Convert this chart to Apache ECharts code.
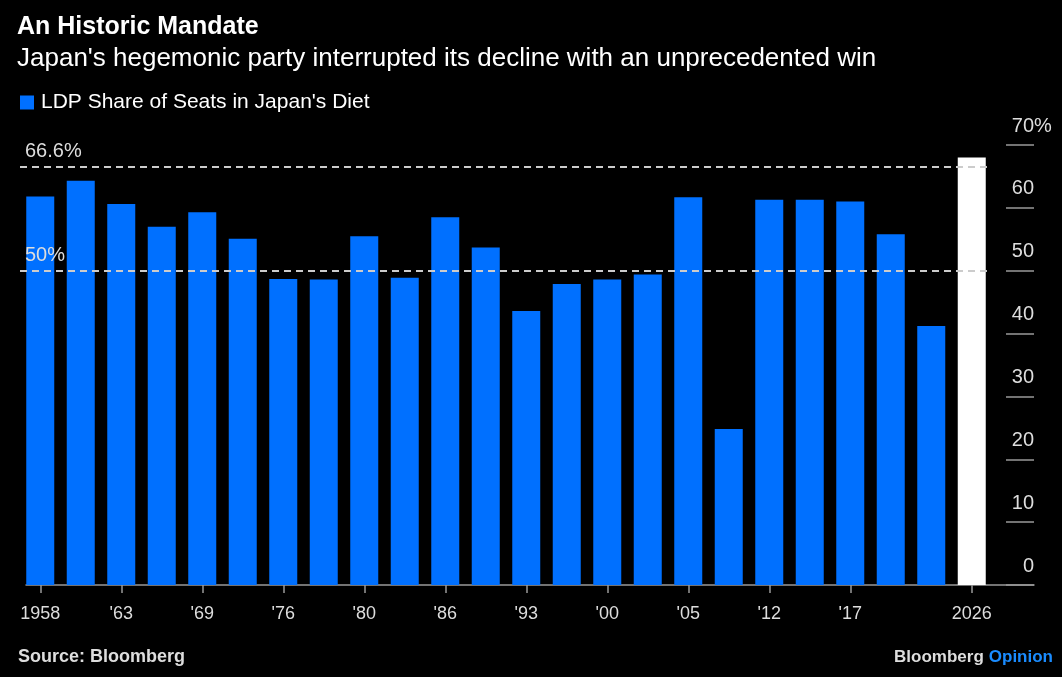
<!DOCTYPE html>
<html>
<head>
<meta charset="utf-8">
<script src="https://cdn.jsdelivr.net/npm/echarts@6/dist/echarts.min.js"></script>
<style>
  html, body { margin: 0; padding: 0; background: #000; }
  #chart { width: 1062px; height: 677px; }
</style>
</head>
<body>
<div id="chart"></div>
<script>
// 数据
var years = ['1958', '1960', '1963', '1967', '1969', '1972', '1976', '1979', '1980', '1983', '1986', '1990',
             '1993', '1996', '2000', '2003', '2005', '2009', '2012', '2014', '2017', '2021', '2024', '2026'];
var seatShare = [61.8, 64.3, 60.6, 57.0, 59.3, 55.1, 48.7, 48.6, 55.5, 48.9, 58.5, 53.7,
                 43.6, 47.9, 48.6, 49.4, 61.7, 24.8, 61.3, 61.3, 61.0, 55.8, 41.2, 68.0];
var tickLabels = ['1958', '', "'63", '', "'69", '', "'76", '', "'80", '', "'86", '',
                  "'93", '', "'00", '', "'05", '', "'12", '', "'17", '', '', '2026'];
var yTicks = [0, 10, 20, 30, 40, 50, 60, 70];
var refLines = [66.6, 50];

(function() {
  var myChart = echarts.init(document.getElementById('chart'));
  var font = 'Liberation Sans';
  var blue = '#0070ff';
  var yMin = yTicks[0];
  var yMax = yTicks[yTicks.length - 1];

  // 最后一根柱子(2026)用白色
  var barData = seatShare.map(function(v, i) {
    if (i === seatShare.length - 1) {
      return { value: v, itemStyle: { color: '#ffffff' } };
    }
    return v;
  });

  // 只在有标签的位置显示刻度
  var showAt = function(idx) { return tickLabels[idx] !== ''; };

  var option = {
    backgroundColor: '#000',
    animation: false,
    textStyle: { fontFamily: font },
    title: [
      {
        text: 'An Historic Mandate',
        subtext: "Japan's hegemonic party interrupted its decline with an unprecedented win",
        left: 12,
        top: 10,
        itemGap: 6,
        textStyle: { color: '#fff', fontSize: 25, fontWeight: 'bold', fontFamily: font },
        subtextStyle: { color: '#fff', fontSize: 26, fontFamily: font }
      },
      {
        text: 'Source: Bloomberg',
        left: 13,
        bottom: 6,
        textStyle: { color: '#ddd', fontSize: 18, fontWeight: 'bold', fontFamily: font }
      },
      {
        text: '{a|Bloomberg} {b|Opinion}',
        right: 4,
        bottom: 6,
        textStyle: {
          rich: {
            a: { color: '#ddd', fontSize: 17, fontWeight: 'bold', fontFamily: font },
            b: { color: '#1a8cff', fontSize: 17, fontWeight: 'bold', fontFamily: font }
          }
        }
      }
    ],
    legend: {
      left: 15,
      top: 87,
      itemWidth: 14,
      itemHeight: 14,
      itemGap: 10,
      icon: 'rect',
      textStyle: { color: '#fff', fontSize: 21, fontFamily: font, padding: [0, 0, 0, 2] },
      data: ["LDP Share of Seats in Japan's Diet"]
    },
    grid: [
      // 柱子所在区域
      { left: 20, right: 70, top: 145, bottom: 92 },
      // 坐标轴线和右侧刻度
      { left: 26, right: 28, top: 145, bottom: 92 }
    ],
    xAxis: [
      {
        type: 'category',
        gridIndex: 0,
        data: years,
        axisLine: { show: false },
        axisTick: {
          show: true,
          alignWithLabel: true,
          interval: showAt,
          length: 8,
          lineStyle: { color: '#999', width: 1.5 }
        },
        axisLabel: {
          interval: showAt,
          color: '#ddd',
          fontSize: 18,
          margin: 20,
          formatter: function(v, idx) { return tickLabels[idx]; }
        }
      },
      {
        type: 'value',
        gridIndex: 1,
        min: 0,
        max: 1,
        axisLine: { show: true, onZero: false, lineStyle: { color: '#999', width: 1.5 } },
        axisTick: { show: false },
        axisLabel: { show: false },
        splitLine: { show: false }
      }
    ],
    yAxis: [
      {
        type: 'value',
        gridIndex: 0,
        min: yMin,
        max: yMax,
        interval: 10,
        show: false
      },
      {
        // 右侧刻度和数字
        type: 'value',
        gridIndex: 1,
        position: 'right',
        min: yMin,
        max: yMax,
        interval: 10,
        axisLine: { show: false, onZero: false },
        splitLine: { show: false },
        axisTick: {
          show: true,
          inside: true,
          length: 28,
          lineStyle: { color: '#999', width: 1.5 }
        },
        axisLabel: {
          inside: true,
          margin: 0,
          color: '#ddd',
          fontSize: 20,
          verticalAlign: 'bottom',
          padding: [0, 0, 9, 0]
        }
      },
      {
        // 顶部的 % 号，挂在数字右边
        type: 'value',
        gridIndex: 1,
        position: 'right',
        min: yMin,
        max: yMax,
        interval: yMax,
        axisLine: { show: false, onZero: false },
        splitLine: { show: false },
        axisTick: { show: false },
        axisLabel: {
          margin: 0,
          color: '#ddd',
          fontSize: 20,
          verticalAlign: 'bottom',
          padding: [0, 0, 9, 0],
          formatter: function(v) { return v === yMax ? '%' : ''; }
        }
      }
    ],
    series: [
      {
        name: "LDP Share of Seats in Japan's Diet",
        type: 'bar',
        xAxisIndex: 0,
        yAxisIndex: 0,
        barWidth: 28,
        itemStyle: { color: blue },
        data: barData,
        markLine: {
          silent: true,
          symbol: 'none',
          lineStyle: { color: '#ccc', type: [7, 5], width: 2 },
          label: {
            position: 'insideStartTop',
            color: '#ddd',
            fontSize: 20,
            fontFamily: font,
            formatter: function(p) { return p.value + '%'; }
          },
          data: refLines.map(function(v) { return { yAxis: v }; })
        }
      }
    ]
  };

  myChart.setOption(option);
})();
</script>
</body>
</html>
